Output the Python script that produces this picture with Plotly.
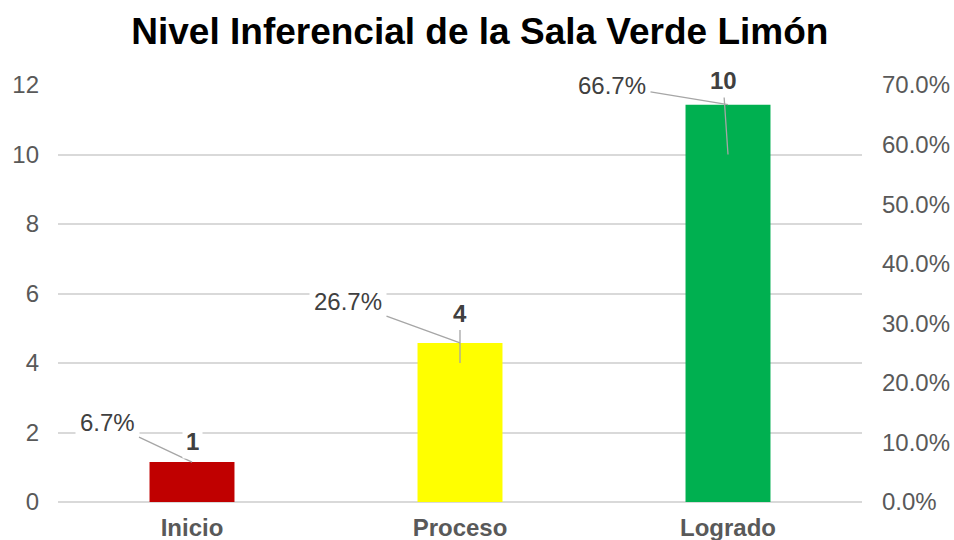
import plotly.graph_objects as go

categories = ["Inicio", "Proceso", "Logrado"]
counts = [1, 4, 10]
percentages = [0.067, 0.267, 0.667]
pct_labels = ["6.7%", "26.7%", "66.7%"]
bar_colors = ["#C00000", "#FFFF00", "#00B050"]
left_ticks = [0, 2, 4, 6, 8, 10, 12]
right_ticks = [0, 0.1, 0.2, 0.3, 0.4, 0.5, 0.6, 0.7]

FONT = "Liberation Sans, Arial, sans-serif"
TXT = "#404040"
AX = "#595959"
FS = 24

fig = go.Figure()
fig.add_trace(go.Scatter(x=categories, y=counts, mode="markers", marker=dict(opacity=0),
                         hoverinfo="skip", showlegend=False, yaxis="y"))
fig.add_trace(go.Bar(x=categories, y=percentages, marker=dict(color=bar_colors, line=dict(width=0)),
                     width=0.317, showlegend=False, yaxis="y2"))

# percentage labels with leader lines (pixel offsets)
pct_offsets = [(-85, -40), (-112, -41), (-116, -19)]
for c, p, lab, (ax, ay) in zip(categories, percentages, pct_labels, pct_offsets):
    fig.add_annotation(x=c, y=p, xref="x", yref="y2", text=lab, showarrow=True,
                       ax=ax, ay=ay, arrowhead=0, arrowwidth=1.3, arrowcolor="#A6A6A6",
                       bgcolor="white", font=dict(family=FONT, size=FS, color=TXT),
                       borderpad=4)

# count labels
cnt_offsets = [(0, -26, False), (0, -50, True), (-5, -74, True)]
for c, n, (ax, ay, show) in zip(categories, counts, cnt_offsets):
    fig.add_annotation(x=c, y=n, xref="x", yref="y", text="<b>%d</b>" % n, showarrow=True,
                       ax=ax, ay=ay, arrowhead=0, arrowwidth=1.3,
                       arrowcolor="#A6A6A6" if show else "rgba(0,0,0,0)",
                       bgcolor="white", font=dict(family=FONT, size=FS, color=TXT),
                       borderpad=3)

fig.update_layout(
    width=954, height=540,
    margin=dict(l=58, r=92, t=85, b=38, autoexpand=False),
    paper_bgcolor="white", plot_bgcolor="white",
    title=dict(text="<b>Nivel Inferencial de la Sala Verde Limón</b>", x=0.503, xanchor="center",
               y=0.943, yanchor="middle", font=dict(family=FONT, size=37, color="black")),
    font=dict(family=FONT, color=AX),
    xaxis=dict(showgrid=False, showline=False, ticks="", tickfont=dict(family=FONT, size=FS, color=AX),
               tickprefix="<b>", ticksuffix="</b>", range=[-0.5, 2.5], automargin=False,
               ticklabelstandoff=9),
    yaxis=dict(range=[0, 12], tickvals=left_ticks, showgrid=True, gridcolor="#D9D9D9", gridwidth=1.5,
               zeroline=True, zerolinecolor="#D9D9D9", zerolinewidth=1.5, showline=False,
               tickfont=dict(family=FONT, size=FS, color=AX), ticklabelstandoff=18, automargin=False),
    yaxis2=dict(range=[0, 0.7], tickvals=right_ticks, tickformat=".1%", overlaying="y", side="right",
                showgrid=False, zeroline=False, showline=False, automargin=False,
                tickfont=dict(family=FONT, size=FS, color=AX), ticklabelstandoff=19),
    hovermode=False,
)

fig.write_html("out.html", config={"displayModeBar": False},
               post_script="document.body.style.margin='0';document.body.style.overflow='hidden';")
